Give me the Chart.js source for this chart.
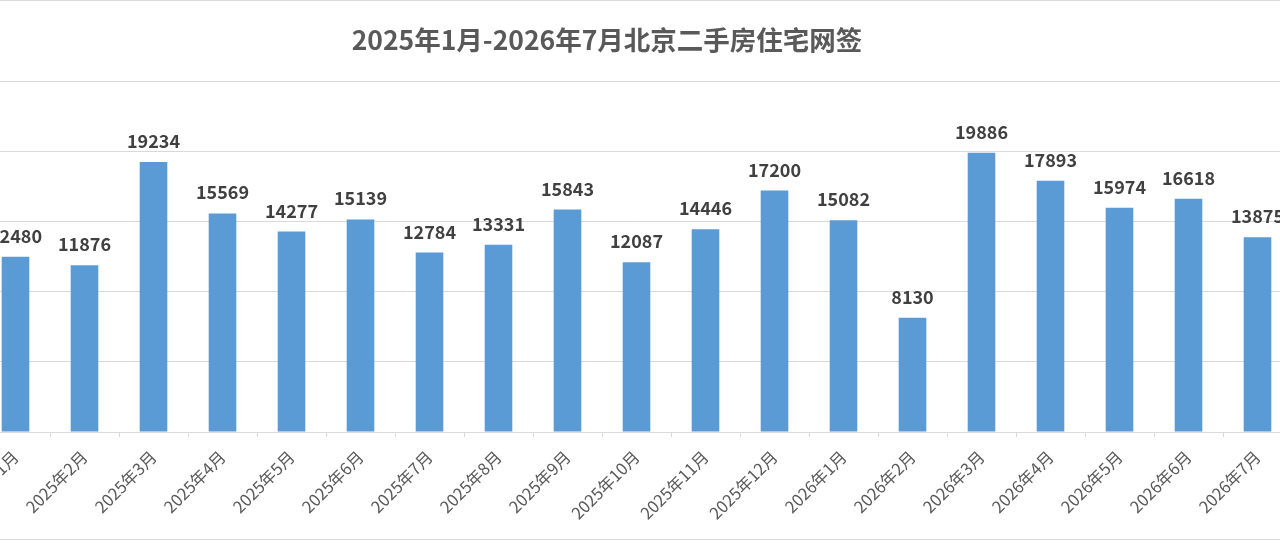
<!DOCTYPE html>
<html>
<head>
<meta charset="utf-8">
<script src="https://cdn.jsdelivr.net/npm/chart.js@4.4.1/dist/chart.umd.min.js"></script>
<style>
  html, body { margin: 0; padding: 0; background: #fff; overflow: hidden; }
  #frame { position: absolute; left: 0; top: 0; width: 1280px; height: 540px;
           border-top: 1px solid #d9d9d9; border-bottom: 1px solid #d9d9d9; box-sizing: border-box; }
  #title { position: absolute; left: 0; width: 1214px; top: 19px; text-align: center;
           font: bold 26.5px "Noto Sans CJK SC", sans-serif; color: #595959; }
  #wrap { position: absolute; left: -40px; top: 0; width: 1360px; height: 543px; }
</style>
</head>
<body>
<div id="frame"></div>
<div id="wrap"><canvas id="chart"></canvas></div>
<div id="title">2025年1月-2026年7月北京二手房住宅网签</div>
<script>
var months = ['2025年1月','2025年2月','2025年3月','2025年4月','2025年5月','2025年6月','2025年7月',
  '2025年8月','2025年9月','2025年10月','2025年11月','2025年12月','2026年1月','2026年2月',
  '2026年3月','2026年4月','2026年5月','2026年6月','2026年7月'];
var signed = [12480, 11876, 19234, 15569, 14277, 15139, 12784, 13331, 15843, 12087,
  14446, 17200, 15082, 8130, 19886, 17893, 15974, 16618, 13875];
var yTicks = [0, 5000, 10000, 15000, 20000, 25000];

// numbers over the bars
var barLabels = {
  id: 'barLabels',
  afterDatasetsDraw: function(chart) {
    var ctx = chart.ctx;
    var meta = chart.getDatasetMeta(0);
    ctx.save();
    ctx.font = 'bold 18px "Noto Sans CJK SC", sans-serif';
    ctx.fillStyle = '#404040';
    ctx.textAlign = 'center';
    ctx.textBaseline = 'alphabetic';
    meta.data.forEach(function(bar, i) {
      ctx.fillText(String(signed[i]), bar.x, bar.y - 14);
    });
    ctx.restore();
  }
};

var ctx = document.getElementById('chart');
new Chart(ctx, {
  type: 'bar',
  data: {
    labels: months,
    datasets: [{
      label: '网签',
      data: signed,
      backgroundColor: '#5b9bd5',
      borderWidth: 0,
      categoryPercentage: 1,
      barPercentage: 0.4
    }]
  },
  options: {
    responsive: true,
    maintainAspectRatio: false,
    animation: false,
    layout: { padding: { left: 21, right: 28, top: 81, bottom: 11 } },
    plugins: { legend: { display: false }, tooltip: { enabled: false } },
    scales: {
      x: {
        grid: { drawOnChartArea: false, drawTicks: true, tickLength: 5, color: '#d9d9d9' },
        border: { color: '#d9d9d9', width: 1 },
        ticks: {
          minRotation: 45, maxRotation: 45, autoSkip: false, padding: 10,
          color: '#595959', font: { family: '"Noto Sans CJK SC", sans-serif', size: 16.5 }
        },
        afterFit: function(s) { s.height = 100; s.paddingLeft = 0; s.paddingRight = 0; }
      },
      y: {
        min: 0, max: 25000,
        afterBuildTicks: function(s) { s.ticks = yTicks.map(function(v) { return { value: v }; }); },
        grid: { color: '#d9d9d9', drawTicks: false },
        border: { display: false },
        ticks: { display: false },
        afterFit: function(s) { s.width = 0; }
      }
    }
  },
  plugins: [barLabels]
});
</script>
</body>
</html>
